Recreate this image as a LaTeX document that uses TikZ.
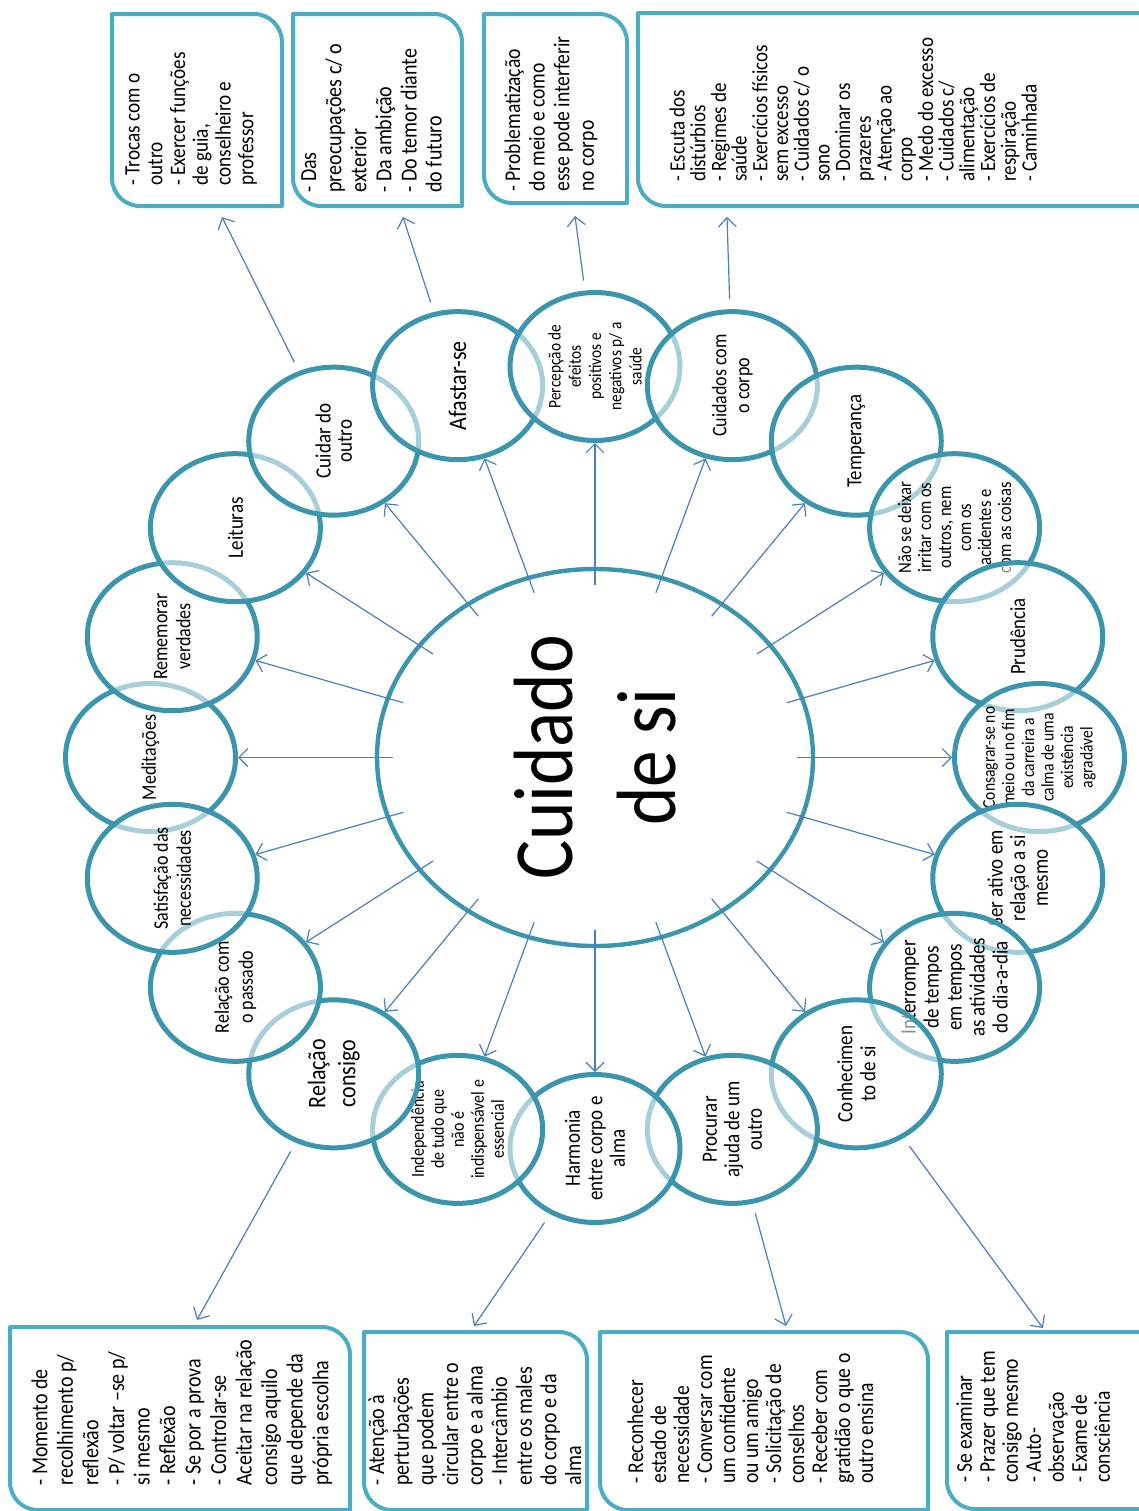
\documentclass[tikz,border=0pt]{standalone}
\usepackage{fontspec}
\setmainfont{Carlito}
\usetikzlibrary{shapes.geometric,arrows.meta}
\definecolor{circ}{RGB}{59,149,172}
\definecolor{boxc}{RGB}{75,172,198}
\definecolor{arrc}{RGB}{74,126,193}
\newcommand\mysat[5]{%
  \node[satnode] (#1) at ({595+444.5*cos(#2)},{757.5-391*sin(#2)}) {};
  \node[sattext,font=\fontsize{#3}{#4}\selectfont] (#1t) at (#1.center) {#5};}
\newcommand\mybox[4]{%
  \draw[boxline] (#1,#2) -- ({#3-28},#2) arc[start angle=270,end angle=360,radius=28]
    -- (#3,#4) -- ({#1+28},#4) arc[start angle=90,end angle=180,radius=28] -- cycle;}
\begin{document}
\begin{tikzpicture}[x=0.5pt,y=-0.5pt,
  satnode/.style={ellipse,draw=circ,line width=2.5pt,fill=white,fill opacity=0.55,
    minimum width=85pt,minimum height=74pt,inner sep=0pt},
  sattext/.style={xscale=1.15,rotate=90,align=center,inner sep=0pt,text=black},
  boxline/.style={draw=boxc,line width=2pt,line join=round},
  boxtext/.style={xscale=1.15,rotate=90,align=left,inner sep=0pt,anchor=north west},
  arr/.style={draw=arrc,line width=0.6pt,-{Straight Barb[length=4.5pt,width=9pt]}}]
\useasboundingbox (0,0) rectangle (1139,1511);
\clip (0,0) rectangle (1139,1511);

% central node
\node[ellipse,draw=circ,line width=2.2pt,fill=white,minimum width=218pt,
  minimum height=188.5pt,inner sep=0pt] (big) at (595,757.5) {};
\node[sattext,font=\fontsize{36.6}{44.8}\selectfont] (bigt) at (big.center) {Cuidado\\de si};

% satellites, drawn clockwise from Meditacoes
\mysat{med}{180}{9}{10}{Meditações}
\mysat{rem}{162}{9}{10}{Rememorar\\verdades}
\mysat{lei}{144}{9.5}{10}{Leituras}
\mysat{cuo}{126}{9.5}{9.2}{Cuidar do\\outro}
\mysat{afa}{108}{11}{11}{Afastar-se}
\mysat{per}{90}{7.7}{8.8}{Percepção de\\efeitos\\positivos e\\negativos p/ a\\saúde}
\mysat{cco}{72}{9}{10}{Cuidados com\\o corpo}
\mysat{tem}{54}{9.4}{10}{Temperança}
\mysat{nao}{36}{8.3}{8.7}{Não se deixar\\irritar com os\\outros, nem\\com os\\acidentes e\\com as coisas}
\mysat{pru}{18}{9.4}{10}{Prudência}
\mysat{con}{0}{7.8}{8.5}{Consagrar-se no\\meio ou no fim\\da carreira a\\calma de uma\\existência\\agradável}
\mysat{ser}{-18}{9.5}{9.8}{Ser ativo em\\relação a si\\mesmo}
\mysat{itr}{-36}{9.5}{10}{Interromper\\de tempos\\em tempos\\as atividades\\do dia-a-dia}
\mysat{coh}{-54}{9.5}{10}{Conhecimen\\to de si}
\mysat{pro}{-72}{9.5}{9.8}{Procurar\\ajuda de um\\outro}
\mysat{har}{-90}{9.5}{9.8}{Harmonia\\entre corpo e\\alma}
\mysat{ind}{-108}{8}{8.7}{Independência\\de tudo que\\não é\\indispensável e\\essencial}
\mysat{rco}{-126}{11}{13}{Relação\\consigo}
\mysat{rpa}{-144}{9}{10.4}{Relação com\\o passado}
\mysat{sne}{-162}{9}{10}{Satisfação das\\necessidades}

% arrows from the centre
\foreach \n in {med,rem,lei,cuo,afa,per,cco,tem,nao,pru,con,ser,itr,coh,pro,har,ind,rco,rpa,sne}
  \draw[arr,shorten <=-9pt] (big) -- (\n);

% boxes
\mybox{112}{14}{282}{206}
\mybox{293}{14}{462}{206}
\mybox{484}{14}{627}{203}
\mybox{638}{13}{1180}{206}
\mybox{10}{1327}{350}{1510}
\mybox{364}{1332}{587}{1510}
\mybox{600}{1332}{928}{1510}
\mybox{947}{1332}{1180}{1509}

\node[boxtext,font=\fontsize{9.6}{9.9}\selectfont] (bt1) at (125,186)
  {- Trocas com o\\outro\\- Exercer funções\\de guia,\\conselheiro e\\professor};
\node[boxtext,font=\fontsize{10}{10.9}\selectfont] (bt2) at (301,193)
  {- Das\\preocupações c/ o\\exterior\\- Da ambição\\- Do temor diante\\do futuro};
\node[boxtext,font=\fontsize{9.8}{10.7}\selectfont] (bt3) at (504,192)
  {- Problematização\\do meio e como\\esse pode interferir\\no corpo};
\node[boxtext,font=\fontsize{9.5}{9}\selectfont] (bt4) at (669,182)
  {- Escuta dos\\distúrbios\\- Regimes de\\saúde\\- Exercícios físicos\\sem excesso\\- Cuidados c/ o\\sono\\- Dominar os\\prazeres\\- Atenção ao\\corpo\\- Medo do excesso\\- Cuidados c/\\alimentação\\- Exercícios de\\respiração\\- Caminhada};
\node[boxtext,font=\fontsize{10}{11.1}\selectfont] (bt5) at (31,1486)
  {- Momento de\\recolhimento p/\\reflexão\\- P/ voltar –se p/\\si mesmo\\- Reflexão\\- Se por a prova\\- Controlar-se\\Aceitar na relação\\consigo aquilo\\que depende da\\própria escolha};
\node[boxtext,font=\fontsize{10}{10.7}\selectfont] (bt6) at (368,1486)
  {- Atenção à\\perturbações\\que podem\\circular entre o\\corpo e a alma\\- Intercâmbio\\entre os males\\do corpo e da\\alma};
\node[boxtext,font=\fontsize{9.8}{10}\selectfont] (bt7) at (627,1484)
  {- Reconhecer\\estado de\\necessidade\\- Conversar com\\um confidente\\ou um amigo\\- Solicitação de\\conselhos\\- Receber com\\gratidão o que o\\outro ensina};
\node[boxtext,font=\fontsize{9.8}{10}\selectfont] (bt8) at (956,1483)
  {- Se examinar\\- Prazer que tem\\consigo mesmo\\- Auto-\\observação\\- Exame de\\consciência};

% arrows to the boxes
\coordinate (t1) at (222,217);
\coordinate (t2) at (403,217);
\coordinate (t3) at (575,216);
\coordinate (t4) at (727,217);
\coordinate (t5) at (197,1320);
\coordinate (t6) at (474,1326);
\coordinate (t7) at (786,1326);
\coordinate (t8) at (1043,1328);
\draw[arr,shorten <=5pt] (cuo) -- (t1);
\draw[arr,shorten <=5pt] (afa) -- (t2);
\draw[arr,shorten <=5pt] (per) -- (t3);
\draw[arr,shorten <=5pt] (cco) -- (t4);
\draw[arr,shorten <=5pt] (rco) -- (t5);
\draw[arr,shorten <=5pt] (har) -- (t6);
\draw[arr,shorten <=5pt] (pro) -- (t7);
\draw[arr,shorten <=5pt] (coh) -- (t8);
\end{tikzpicture}
\end{document}
